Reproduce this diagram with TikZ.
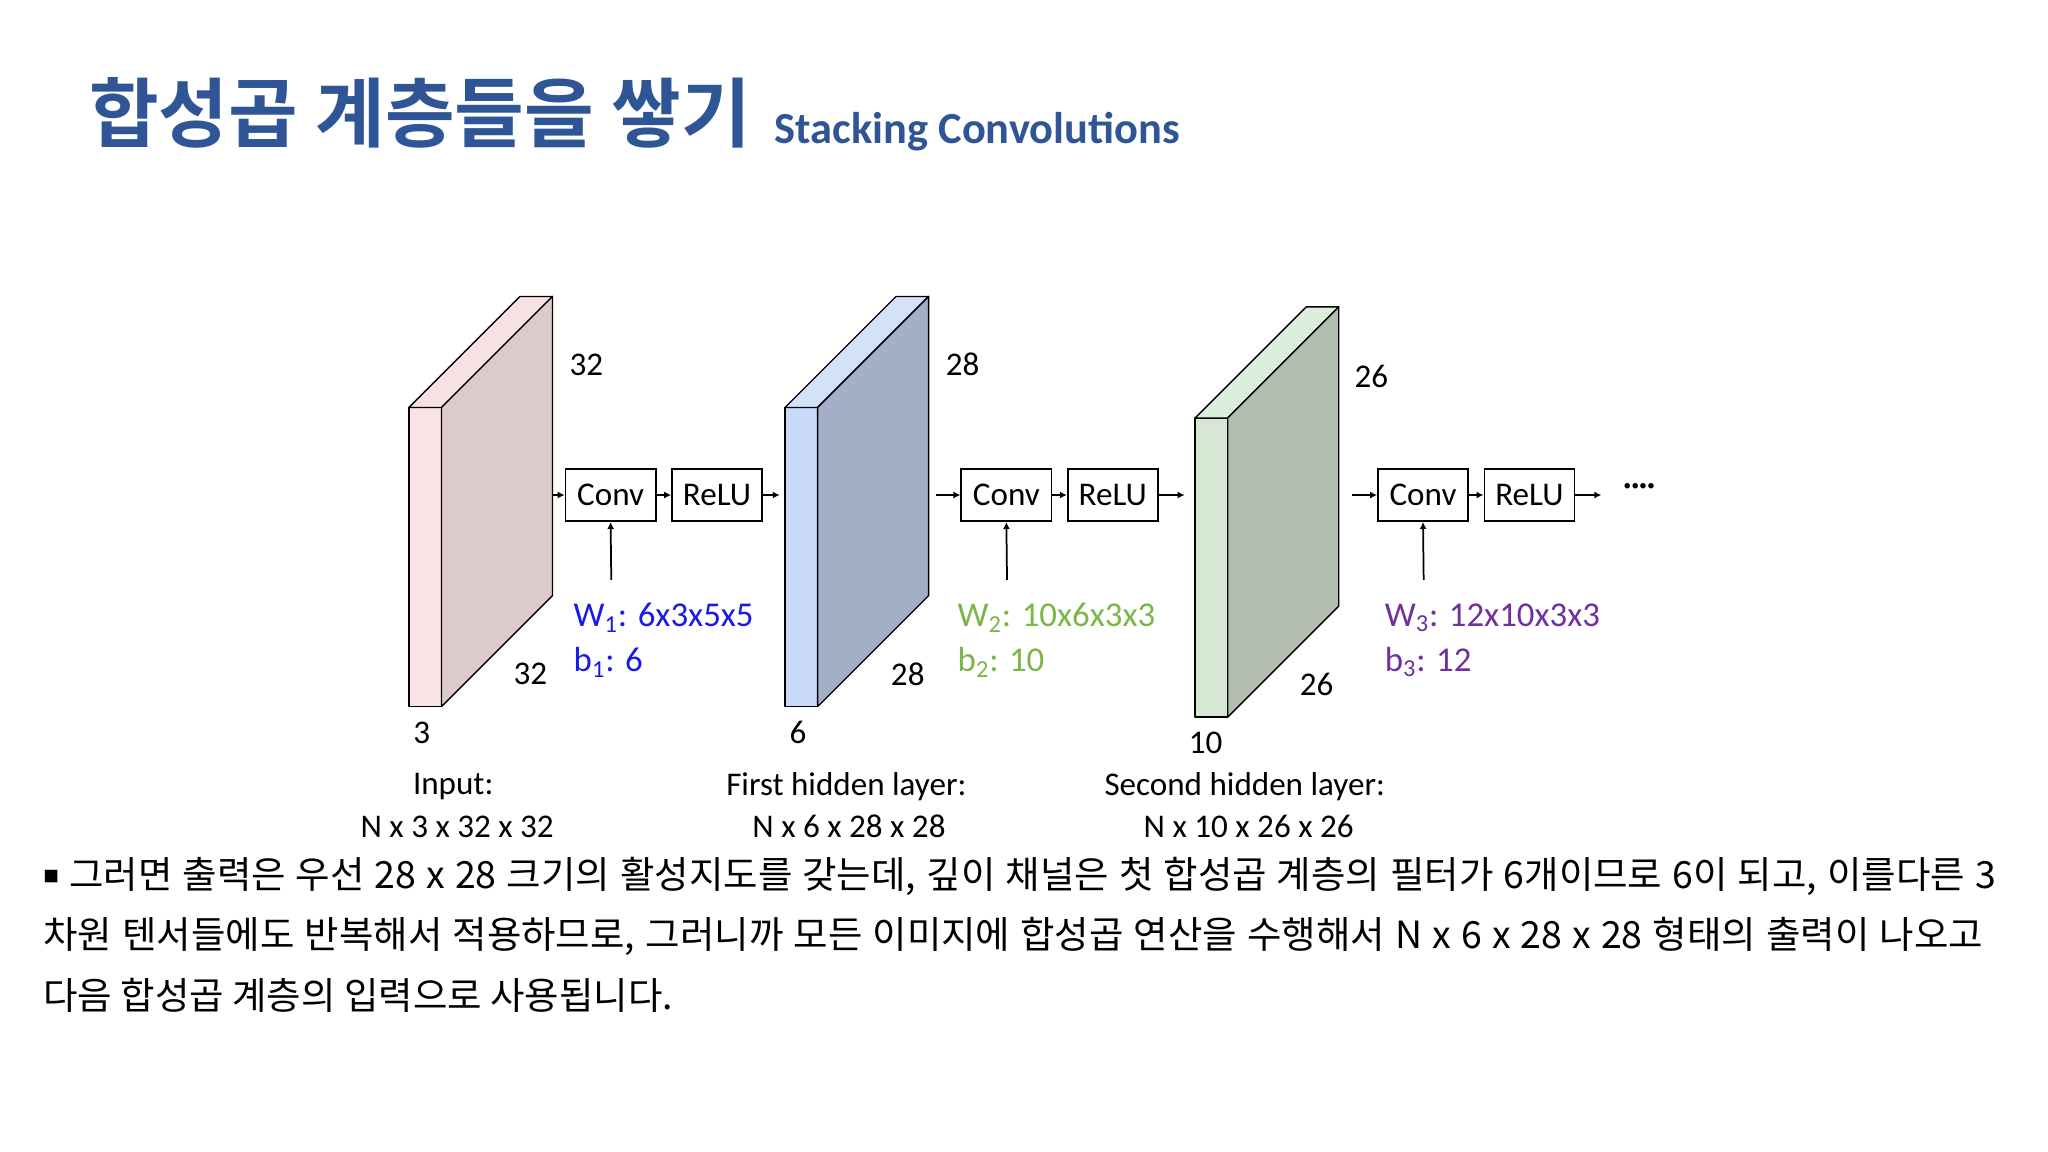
\documentclass[tikz,border=0pt]{standalone}
\usepackage{fontspec}
\setmainfont{Carlito}
\newfontfamily\kr{Noto Sans CJK KR}
\newfontfamily\krb{Noto Sans CJK KR Bold}
\usetikzlibrary{arrows.meta}
\definecolor{titleblue}{HTML}{2F5597}
\definecolor{wblue}{HTML}{1A1AE6}
\definecolor{wgreen}{HTML}{7AB648}
\definecolor{wpurple}{HTML}{7030A0}
\definecolor{f1}{HTML}{F9E3E5}\definecolor{s1}{HTML}{DDCACA}\definecolor{u1}{HTML}{F7E2E3}
\definecolor{f2}{HTML}{C9DAF8}\definecolor{s2}{HTML}{A4AFC7}\definecolor{u2}{HTML}{D3E1F9}
\definecolor{f3}{HTML}{D6E8D4}\definecolor{s3}{HTML}{B2BDAF}\definecolor{u3}{HTML}{DEEEDC}
\tikzset{
 lbl/.style={font=\fontsize{19}{22}\selectfont, inner sep=0pt},
 opbox/.style={draw, line width=1pt, minimum width=69*0.75pt, minimum height=40*0.75pt, inner sep=0pt, font=\fontsize{19}{22}\selectfont},
 arr/.style={-{Latex[length=4pt,width=4pt]}, line width=1pt},
 wl/.style={font=\fontsize{20}{24}\selectfont, inner sep=0pt, anchor=west},
 slab/.style={draw, line width=0.8pt, line join=round},
}
\newcommand{\myslab}[6]{% x y(top) h front side top
 \fill[fill=#4,slab] (#1,#2) rectangle (#1+25,#2+#3);
 \fill[fill=#6,slab] (#1,#2) -- (#1+85,#2-85) -- (#1+110,#2-85) -- (#1+25,#2) -- cycle;
 \fill[fill=#5,slab] (#1+25,#2) -- (#1+110,#2-85) -- (#1+110,#2-85+#3) -- (#1+25,#2+#3) -- cycle;
}
\begin{document}
\begin{tikzpicture}[x=0.75pt,y=-0.75pt]
\useasboundingbox[fill=white] (0,0) rectangle (1568,882);
% title
\node[anchor=base west, inner sep=0pt, text=titleblue, font=\krb\fontsize{43.5}{48}\selectfont] (t1) at (68,108) {합성곱 계층들을 쌓기};
\node[anchor=base west, inner sep=0pt, text=titleblue, font=\bfseries\fontsize{25.5}{28}\selectfont] (t2) at (593,110) {Stacking Convolutions};
% slabs
\myslab{313}{312}{229}{f1}{s1}{u1}
\myslab{601}{312}{229}{f2}{s2}{u2}
\myslab{915}{320}{229}{f3}{s3}{u3}
% dims
\node[lbl] (d1a) at (449,279) {32};
\node[lbl] (d1b) at (406,516) {32};
\node[lbl] (d1c) at (323,561) {3};
\node[lbl] (d2a) at (737,279) {28};
\node[lbl] (d2b) at (695,516) {28};
\node[lbl] (d2c) at (611,561) {6};
\node[lbl] (d3a) at (1050,288) {26};
\node[lbl] (d3b) at (1008,524) {26};
\node[lbl] (d3c) at (923,569) {10};
% ops
\node[opbox] (c1) at (467.5,379) {Conv};
\node[opbox] (r1) at (549,379) {ReLU};
\node[opbox] (c2) at (770.5,379) {Conv};
\node[opbox] (r2) at (852,379) {ReLU};
\node[opbox] (c3) at (1089.5,379) {Conv};
\node[opbox] (r3) at (1171,379) {ReLU};
\coordinate (s1) at (423,379); \coordinate (e1) at (597,379);
\coordinate (s2) at (717,379); \coordinate (e2) at (907,379);
\coordinate (s3) at (1035,379); \coordinate (e3) at (1226,379);
\draw[arr] (s1) -- (c1); \draw[arr] (c1) -- (r1); \draw[arr] (r1) -- (e1);
\draw[arr] (s2) -- (c2); \draw[arr] (c2) -- (r2); \draw[arr] (r2) -- (e2);
\draw[arr] (s3) -- (c3); \draw[arr] (c3) -- (r3); \draw[arr] (r3) -- (e3);
\node[lbl, font=\bfseries\fontsize{17}{20}\selectfont] (dots) at (1255,374) {····};
\coordinate (v1) at (468,444); \coordinate (v2) at (771,444); \coordinate (v3) at (1090,444);
\draw[arr] (v1) -- (c1.south); \draw[arr] (v2) -- (c2.south); \draw[arr] (v3) -- (c3.south);
% weights
\node[wl, text=wblue] (w1) at (439,473) {W\textsubscript{1}: 6x3x5x5};
\node[wl, text=wblue] (b1) at (439,507) {b\textsubscript{1}: 6};
\node[wl, text=wgreen] (w2) at (733,473) {W\textsubscript{2}: 10x6x3x3};
\node[wl, text=wgreen] (b2) at (733,507) {b\textsubscript{2}: 10};
\node[wl, text=wpurple] (w3) at (1060,473) {W\textsubscript{3}: 12x10x3x3};
\node[wl, text=wpurple] (b3) at (1060,507) {b\textsubscript{3}: 12};
% captions
\node[lbl] (n1) at (347,602) {Input:};
\node[lbl] (n1b) at (350,633) {N x 3 x 32 x 32};
\node[lbl] (n2) at (648,602) {First hidden layer:};
\node[lbl] (n2b) at (650,633) {N x 6 x 28 x 28};
\node[lbl] (n3) at (953,602) {Second hidden layer:};
\node[lbl] (n3b) at (956,633) {N x 10 x 26 x 26};
% body
\tikzset{body/.style={anchor=base west, inner sep=0pt, font=\kr\fontsize{21.5}{25}\selectfont}}
\node[body] (p1) at (33,680) {\makebox[1495\dimexpr0.75pt\relax][s]{\raisebox{3pt}{\fontsize{9}{9}\selectfont ■} 그러면 출력은 우선 28 x 28 크기의 활성지도를 갖는데, 깊이 채널은 첫 합성곱 계층의 필터가 6개이므로 6이 되고, 이를다른 3}};
\node[body] (p2) at (33,726) {\makebox[1485\dimexpr0.75pt\relax][s]{차원 텐서들에도 반복해서 적용하므로, 그러니까 모든 이미지에 합성곱 연산을 수행해서 N x 6 x 28 x 28 형태의 출력이 나오고}};
\node[body] (p3) at (33,773) {다음 합성곱 계층의 입력으로 사용됩니다.};
\end{tikzpicture}
\end{document}
